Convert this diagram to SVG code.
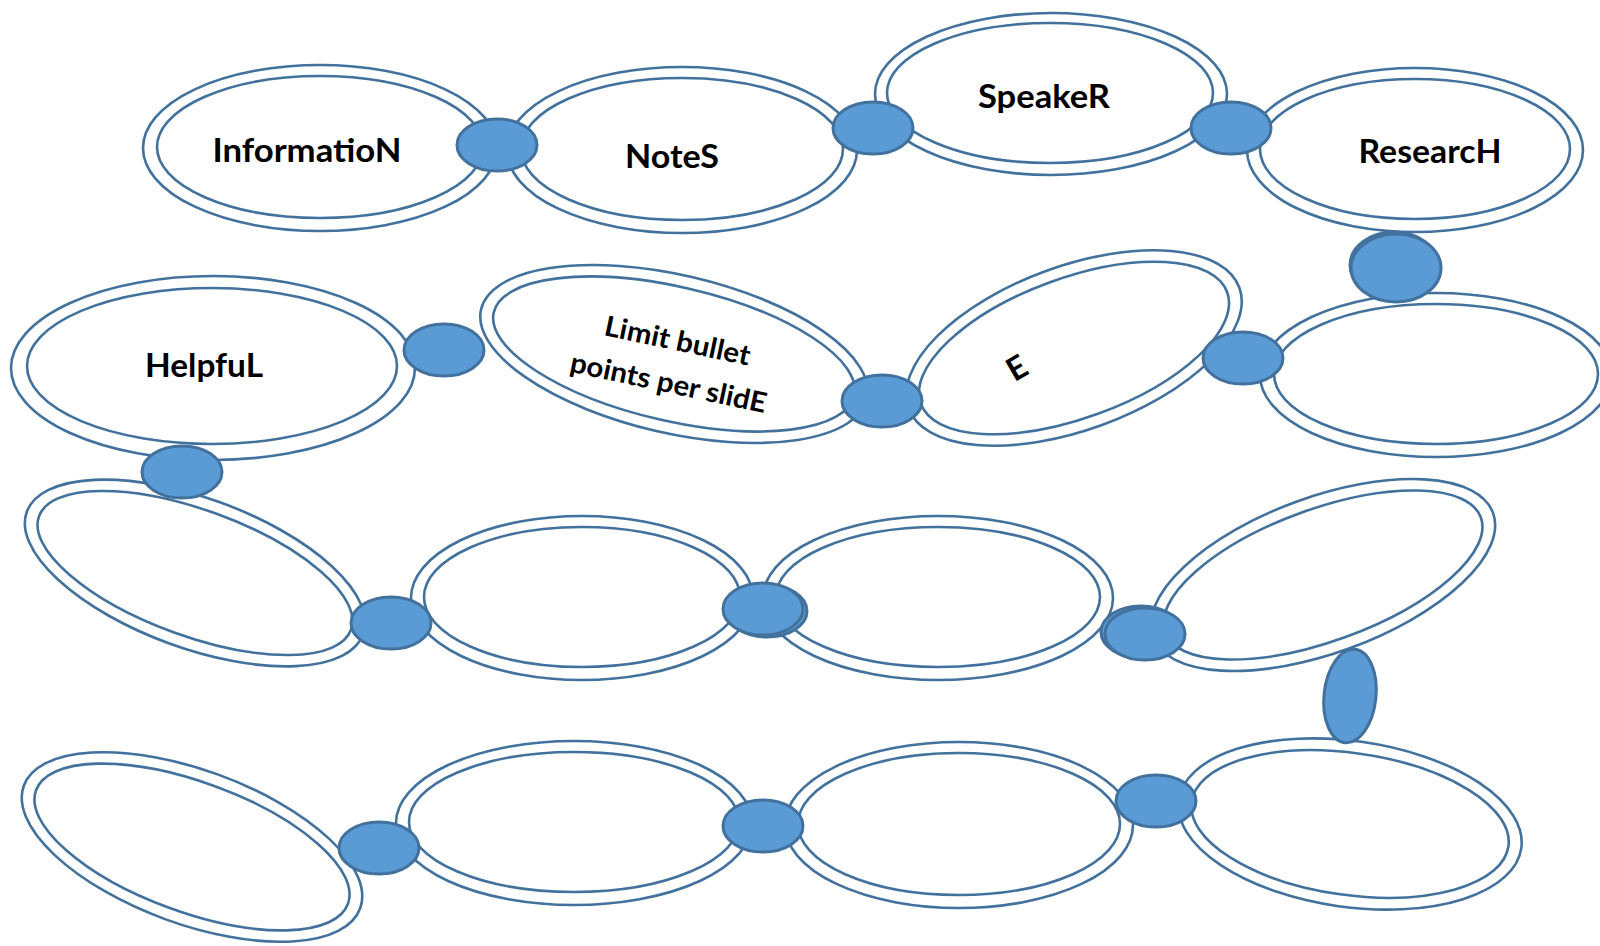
<svg xmlns="http://www.w3.org/2000/svg" width="1600" height="946" viewBox="0 0 1600 946">
<style>
.ring{fill:none;stroke:#41719c;stroke-width:2.6}
.dot{fill:#5b9bd5;stroke:#41719c;stroke-width:3}
.lbl{font-family:Lato,"Open Sans","Liberation Sans",sans-serif;font-weight:bold;fill:#000;text-anchor:middle}
</style>
<rect width="1600" height="946" fill="#fff"/>
<g id="nodes">
<g id="n-information"><ellipse class="ring" cx="320" cy="148" rx="177" ry="83"/><ellipse class="ring" cx="320" cy="147" rx="163" ry="71"/><text class="lbl" x="307" y="162" font-size="32" textLength="189" lengthAdjust="spacingAndGlyphs">InformatioN</text></g>
<g id="n-notes"><ellipse class="ring" cx="682" cy="150" rx="175" ry="83"/><ellipse class="ring" cx="682" cy="149" rx="161" ry="71"/><text class="lbl" x="672" y="168" font-size="32" textLength="94" lengthAdjust="spacingAndGlyphs">NoteS</text></g>
<g id="n-speaker"><ellipse class="ring" cx="1051" cy="94" rx="176" ry="81"/><ellipse class="ring" cx="1050" cy="93" rx="163" ry="70"/><text class="lbl" x="1044" y="108" font-size="32" textLength="132" lengthAdjust="spacingAndGlyphs">SpeakeR</text></g>
<g id="n-research"><ellipse class="ring" cx="1415" cy="150" rx="168" ry="82"/><ellipse class="ring" cx="1415" cy="149" rx="155" ry="70"/><text class="lbl" x="1430" y="163" font-size="32" textLength="143" lengthAdjust="spacingAndGlyphs">ResearcH</text></g>
<g id="n-helpful"><ellipse class="ring" cx="213" cy="368" rx="202" ry="92"/><ellipse class="ring" cx="212" cy="366" rx="185" ry="78"/><text class="lbl" x="204" y="377" font-size="32" textLength="118" lengthAdjust="spacingAndGlyphs">HelpfuL</text></g>
<g id="n-limit"><g transform="rotate(13 674 354)"><ellipse class="ring" cx="674" cy="354" rx="198" ry="79"/><ellipse class="ring" cx="674" cy="354" rx="185" ry="67"/></g><g transform="rotate(12 673 362)"><text class="lbl" x="673" y="350" font-size="28" textLength="148" lengthAdjust="spacingAndGlyphs">Limit bullet</text><text class="lbl" x="673" y="393" font-size="28" textLength="200" lengthAdjust="spacingAndGlyphs">points per slidE</text></g></g>
<g id="n-e"><g transform="rotate(-20 1074 348)"><ellipse class="ring" cx="1074" cy="348" rx="176" ry="82"/><ellipse class="ring" cx="1074" cy="348" rx="163" ry="70"/></g><text class="lbl" x="1017" y="379" font-size="32" transform="rotate(-30 1017 368)">E</text></g>
<g id="n-r2c"><ellipse class="ring" cx="1436" cy="375" rx="176" ry="82"/><ellipse class="ring" cx="1436" cy="374" rx="162" ry="70"/></g>
<g id="n-r3a"><g transform="rotate(20 195 573)"><ellipse class="ring" cx="195" cy="573" rx="179" ry="75"/><ellipse class="ring" cx="195" cy="573" rx="166" ry="63"/></g></g>
<g id="n-r3b"><ellipse class="ring" cx="582" cy="598" rx="171" ry="82"/><ellipse class="ring" cx="582" cy="597" rx="158" ry="70"/></g>
<g id="n-r3c"><ellipse class="ring" cx="938" cy="598" rx="175" ry="82"/><ellipse class="ring" cx="938" cy="597" rx="162" ry="70"/></g>
<g id="n-r3d"><g transform="rotate(-20 1323 575)"><ellipse class="ring" cx="1323" cy="575" rx="181" ry="78"/><ellipse class="ring" cx="1323" cy="575" rx="168" ry="66"/></g></g>
<g id="n-r4a"><g transform="rotate(20 192 847)"><ellipse class="ring" cx="192" cy="847" rx="179" ry="77"/><ellipse class="ring" cx="192" cy="847" rx="166" ry="65"/></g></g>
<g id="n-r4b"><ellipse class="ring" cx="574" cy="823" rx="178" ry="82"/><ellipse class="ring" cx="574" cy="822" rx="165" ry="70"/></g>
<g id="n-r4c"><ellipse class="ring" cx="959" cy="825" rx="174" ry="83"/><ellipse class="ring" cx="959" cy="824" rx="161" ry="71"/></g>
<g id="n-r4d"><g transform="rotate(8 1350 824)"><ellipse class="ring" cx="1350" cy="824" rx="173" ry="83"/><ellipse class="ring" cx="1350" cy="824" rx="160" ry="71"/></g></g>
</g>
<g id="connectors">
<ellipse class="dot" cx="497" cy="145" rx="40" ry="26"/>
<ellipse class="dot" cx="873" cy="128" rx="40" ry="26"/>
<ellipse class="dot" cx="1231" cy="128" rx="40" ry="26"/>
<ellipse class="dot" cx="1394" cy="265" rx="44" ry="33"/>
<ellipse class="dot" cx="1396" cy="268" rx="45" ry="34"/>
<ellipse class="dot" cx="1243" cy="358" rx="40" ry="26"/>
<ellipse class="dot" cx="444" cy="350" rx="40" ry="26"/>
<ellipse class="dot" cx="882" cy="401" rx="40" ry="26"/>
<ellipse class="dot" cx="182" cy="472" rx="40" ry="26"/>
<ellipse class="dot" cx="391" cy="623" rx="40" ry="26"/>
<ellipse class="dot" cx="767" cy="611" rx="40" ry="26"/>
<ellipse class="dot" cx="763" cy="609" rx="40" ry="26"/>
<ellipse class="dot" cx="1141" cy="632" rx="40" ry="26"/>
<ellipse class="dot" cx="1145" cy="634" rx="40" ry="26"/>
<ellipse class="dot" cx="1350" cy="696" rx="26" ry="47" transform="rotate(6 1350 696)"/>
<ellipse class="dot" cx="379" cy="848" rx="40" ry="26"/>
<ellipse class="dot" cx="763" cy="826" rx="40" ry="26"/>
<ellipse class="dot" cx="1156" cy="801" rx="40" ry="26"/>
</g>
</svg>
